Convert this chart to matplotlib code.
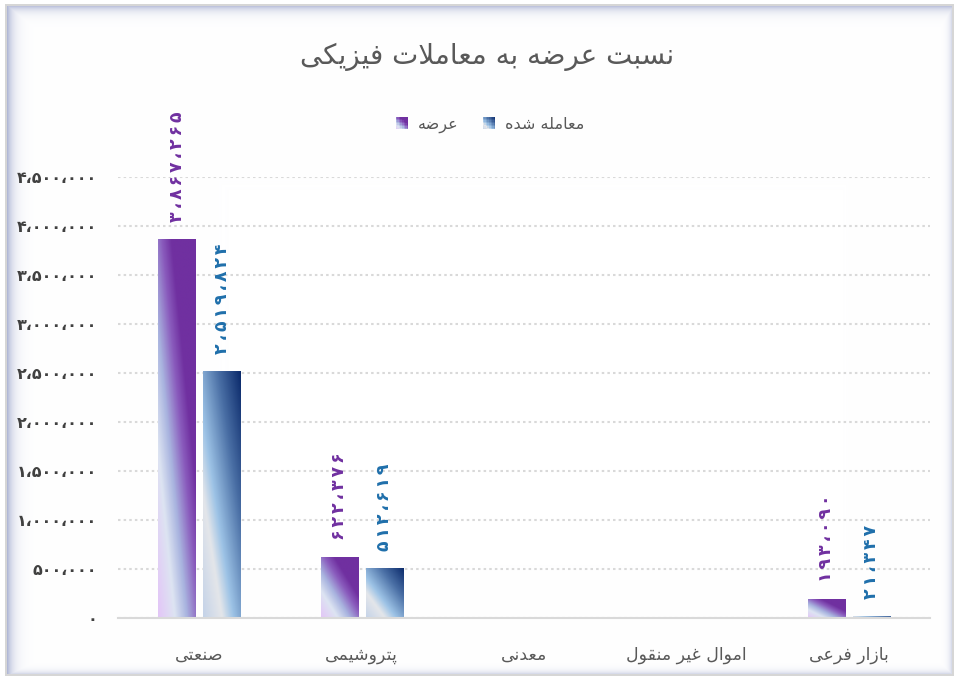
import numpy as np
import matplotlib
matplotlib.use('Agg')
import matplotlib.pyplot as plt
from matplotlib.colors import LinearSegmentedColormap, to_rgb
from matplotlib.patches import Rectangle
from matplotlib.legend_handler import HandlerBase

# data
title = 'نسبت عرضه به معاملات فیزیکی'
categories = ['صنعتی', 'پتروشیمی', 'معدنی', 'اموال غیر منقول', 'بازار فرعی']
series_names = ['عرضه', 'معامله شده']
offered = [3867265, 622376, 0, 0, 193090]
traded = [2519824, 512619, 0, 0, 21347]
yticks = [0, 500000, 1000000, 1500000, 2000000, 2500000, 3000000, 3500000, 4000000, 4500000]

# matplotlib does no arabic shaping, so pick presentation forms by hand
# (isolated, final, initial, medial)
FORMS = {
    'ا': ('\uFE8D', '\uFE8E', None, None),
    'ب': ('\uFE8F', '\uFE90', '\uFE91', '\uFE92'),
    'ت': ('\uFE95', '\uFE96', '\uFE97', '\uFE98'),
    'د': ('\uFEA9', '\uFEAA', None, None),
    'ر': ('\uFEAD', '\uFEAE', None, None),
    'ز': ('\uFEAF', '\uFEB0', None, None),
    'س': ('\uFEB1', '\uFEB2', '\uFEB3', '\uFEB4'),
    'ش': ('\uFEB5', '\uFEB6', '\uFEB7', '\uFEB8'),
    'ص': ('\uFEB9', '\uFEBA', '\uFEBB', '\uFEBC'),
    'ض': ('\uFEBD', '\uFEBE', '\uFEBF', '\uFEC0'),
    'ع': ('\uFEC9', '\uFECA', '\uFECB', '\uFECC'),
    'غ': ('\uFECD', '\uFECE', '\uFECF', '\uFED0'),
    'ف': ('\uFED1', '\uFED2', '\uFED3', '\uFED4'),
    'ق': ('\uFED5', '\uFED6', '\uFED7', '\uFED8'),
    'ل': ('\uFEDD', '\uFEDE', '\uFEDF', '\uFEE0'),
    'م': ('\uFEE1', '\uFEE2', '\uFEE3', '\uFEE4'),
    'ن': ('\uFEE5', '\uFEE6', '\uFEE7', '\uFEE8'),
    'ه': ('\uFEE9', '\uFEEA', '\uFEEB', '\uFEEC'),
    'و': ('\uFEED', '\uFEEE', None, None),
    'پ': ('\uFB56', '\uFB57', '\uFB58', '\uFB59'),
    'ک': ('\uFB8E', '\uFB8F', '\uFB90', '\uFB91'),
    'ی': ('\uFBFC', '\uFBFD', '\uFBFE', '\uFBFF'),
}


def dual(c):
    return c in FORMS and FORMS[c][2] is not None


def fa(text):
    out = []
    i = 0
    while i < len(text):
        c = text[i]
        if c not in FORMS:
            out.append(c)
            i += 1
            continue
        p = i > 0 and dual(text[i - 1])
        if c == 'ل' and i + 1 < len(text) and text[i + 1] == 'ا':
            out.append('\uFEFC' if p else '\uFEFB')
            i += 2
            continue
        q = dual(c) and i + 1 < len(text) and text[i + 1] in FORMS
        iso, fin, ini, med = FORMS[c]
        out.append(med if (p and q) else fin if p else ini if q else iso)
        i += 1
    return ''.join(reversed(out))


def fa_num(v, gap=''):
    s = f'{v:,}'.replace(',', '،')
    s = s.translate(str.maketrans('0123456789', '۰۱۲۳۴۵۶۷۸۹'))
    return gap.join(s)


plt.rcParams['font.family'] = ['DejaVu Sans']

purple = LinearSegmentedColormap.from_list('p', [
    (0, '#e3c6f7'), (0.22, '#dde4f2'), (0.38, '#a9b4df'),
    (0.55, '#8a5cbd'), (0.68, '#7030a0'), (1, '#7030a0')])
blue = LinearSegmentedColormap.from_list('b', [
    (0, '#c5d3e8'), (0.25, '#e4e6ea'), (0.4, '#9dc3e6'),
    (0.7, '#4a6fa5'), (1, '#0b2a6b')])

uu, vv = np.meshgrid(np.linspace(0, 1, 60), np.linspace(0, 1, 60))
grad = (uu + vv) / 2

W, H = 958, 680
fig = plt.figure(figsize=(W / 100, H / 100), dpi=100)

# frame with inner shadow, heavier on the left and top
bg = fig.add_axes([0, 0, 1, 1], zorder=-5)
yy, xx = np.mgrid[0:H, 0:W]
s = np.maximum.reduce([0.6 * np.exp(-(xx - 7) / 6.0), 0.5 * np.exp(-(yy - 6) / 5.0),
                       0.3 * np.exp(-(951 - xx) / 3.0), 0.3 * np.exp(-(673 - yy) / 3.0)])
s = np.clip(s, 0, 1)
shade = np.array(to_rgb('#7d89bb'))
img = np.ones((H, W, 3)) * (1 - s[..., None]) + shade * s[..., None]
inside = (xx >= 7) & (xx <= 951) & (yy >= 6) & (yy <= 673)
img[~inside] = 1.0
border = ((xx >= 5) & (xx <= 953) & (yy >= 4) & (yy <= 675)) & ~inside
img[border] = to_rgb('#d6d6d6')
bg.imshow(img, aspect='auto', interpolation='nearest')
bg.axis('off')

ax = fig.add_axes([118 / W, 62 / H, 812 / W, (618 - 177) / H])
ax.set_facecolor('none')

x = np.arange(len(categories))
bw = 0.228
off = 0.139
for vals, cmap, color, dx in [(offered, purple, '#7030a0', -off),
                              (traded, blue, '#1f6fab', off)]:
    bars = ax.bar(x + dx, vals, bw, color='none', edgecolor='none', zorder=2)
    for rect, v in zip(bars, vals):
        if v <= 0:
            continue
        x0, w, h = rect.get_x(), rect.get_width(), rect.get_height()
        im = ax.imshow(grad, cmap=cmap, vmin=0, vmax=1, origin='lower',
                       extent=[x0, x0 + w, 0, h], aspect='auto', zorder=2,
                       interpolation='bilinear')
        im.set_clip_path(rect)
        ax.annotate(fa_num(v, '\u2006'), (x0 + w / 2, h), xytext=(0, 12),
                    textcoords='offset points', rotation=90,
                    ha='center', va='bottom', color=color,
                    fontsize=12.5, fontweight='bold')

ax.set_xlim(-0.5, len(categories) - 0.5)
ax.set_ylim(0, 4500000)
ax.set_yticks(yticks)
ax.set_yticklabels([fa_num(t) for t in yticks], fontsize=11.5, color='#404040',
                   fontweight='bold')
ax.set_xticks(x)
ax.set_xticklabels([fa(c) for c in categories], fontsize=12.5, color='#595959')
ax.tick_params(axis='both', length=0)
ax.tick_params(axis='x', pad=20)
ax.tick_params(axis='y', pad=15)
ax.yaxis.grid(True, linestyle=(0, (1.2, 1.5)), color='#d9d9d9', lw=1.5)
ax.set_axisbelow(True)
for sp in ['top', 'left', 'right']:
    ax.spines[sp].set_visible(False)
ax.spines['bottom'].set_color('#d9d9d9')
ax.spines['bottom'].set_linewidth(1.5)

fig.text(487 / W, 1 - 57 / H, fa(title), ha='center', va='center',
         fontsize=20, color='#595959')


class GradientHandler(HandlerBase):
    def __init__(self, cmap):
        super().__init__()
        self.cmap = cmap

    def create_artists(self, legend, orig_handle, xdescent, ydescent,
                       width, height, fontsize, trans):
        n = 8
        arts = []
        for i in range(n):
            for j in range(n):
                t = (i + j + 1) / (2 * n)
                arts.append(Rectangle((-xdescent + width * i / n, -ydescent + height * j / n),
                                      width / n, height / n, facecolor=self.cmap(t),
                                      edgecolor='none', transform=trans))
        return arts


h1 = Rectangle((0, 0), 1, 1)
h2 = Rectangle((0, 0), 1, 1)
fig.legend([h1, h2], [fa(n) for n in series_names], loc='center',
           bbox_to_anchor=(490 / W, 1 - 125 / H), ncol=2, frameon=False,
           fontsize=11.5, labelcolor='#595959', handlelength=0.8, handleheight=0.8,
           handletextpad=0.6, columnspacing=1.5,
           handler_map={h1: GradientHandler(purple), h2: GradientHandler(blue)})

fig.savefig('out.png', dpi=100)
